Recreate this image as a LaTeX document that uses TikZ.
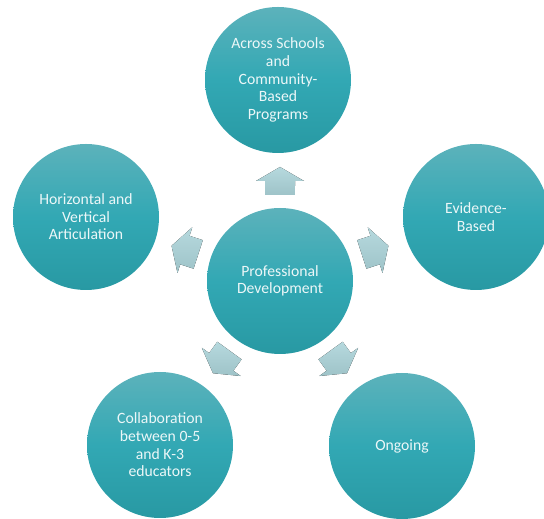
\documentclass[tikz,border=0pt]{standalone}
\usepackage{fontspec}
\setmainfont{Carlito}
\usepackage{tikz}

\definecolor{tealtop}{RGB}{92,178,187}
\definecolor{tealmid}{RGB}{50,168,180}
\definecolor{tealbot}{RGB}{40,153,163}
\definecolor{arrtop}{RGB}{182,217,222}
\definecolor{arrbot}{RGB}{158,195,200}
\definecolor{bubtext}{RGB}{236,247,248}

\tikzset{
  bubble/.style={circle,minimum size=146pt,inner sep=0pt,align=center,
    top color=tealtop,bottom color=tealbot,middle color=tealmid,
    text=bubtext,font=\fontsize{15.7}{17.6}\selectfont},
  blockarrow/.style={top color=arrtop,bottom color=arrbot}
}

\begin{document}
\begin{tikzpicture}[x=1pt,y=1pt]
\useasboundingbox (0,0) rectangle (544,519);
\node[bubble] (pd) at (280,238) {Professional\\Development};
\node[bubble] (across) at (278,439) {Across Schools\\and\\Community-\\Based\\Programs};
\node[bubble] (evid) at (476,302) {Evidence-\\Based};
\node[bubble] (ongo) at (402,73) {Ongoing};
\node[bubble] (collab) at (160,74) {Collaboration\\between 0-5\\and K-3\\educators};
\node[bubble] (horiz) at (86,302) {Horizontal and\\Vertical\\Articulation};
\foreach \a in {90,18,306,234,162}
  \fill[blockarrow,shift={(pd)},shift={(\a:100)}]
    (\a+133:20.5) -- (\a+90:15) -- (\a+90:24) -- (\a:14)
    -- (\a-90:24) -- (\a-90:15) -- (\a-133:20.5) -- cycle;
\end{tikzpicture}
\end{document}
